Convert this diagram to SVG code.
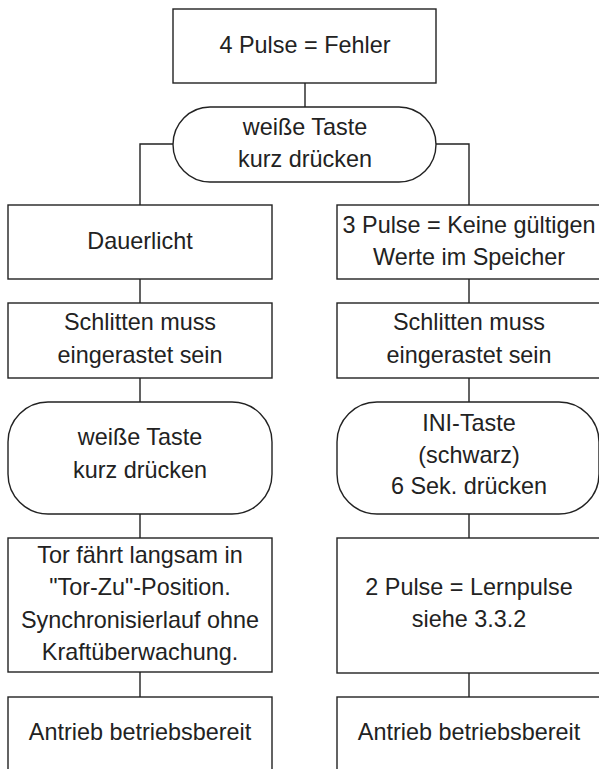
<svg xmlns="http://www.w3.org/2000/svg" width="599" height="769" viewBox="0 0 599 769">
<style>
.s{fill:#fff;stroke:#222;stroke-width:1.4}
.c{fill:none;stroke:#222;stroke-width:1.4}
text{font-family:"Liberation Sans",Arial,sans-serif;font-size:23.4px;fill:#222;text-anchor:middle}
</style>
<rect width="599" height="769" fill="#fff"/>
<g id="connectors">
<path class="c" d="M305,83V107"/>
<path class="c" d="M173,144H140V205"/>
<path class="c" d="M436,144H469V205"/>
<path class="c" d="M140,279V303M140,378V402M140,514V538M140,672V697"/>
<path class="c" d="M469,279V303M469,378V402M469,514V538M469,673V697"/>
</g>
<g id="n1"><rect class="s" x="173" y="9" width="263" height="74"/><text x="305" y="53">4 Pulse = Fehler</text></g>
<g id="n2"><rect class="s" x="173" y="107" width="263" height="75" rx="37" ry="37.5"/><text x="305" y="135">weiße Taste</text><text x="305" y="167">kurz drücken</text></g>
<g id="l1"><rect class="s" x="8" y="205" width="264" height="74"/><text x="140" y="249">Dauerlicht</text></g>
<g id="l2"><rect class="s" x="8" y="303" width="264" height="75"/><text x="140" y="330">Schlitten muss</text><text x="140" y="363">eingerastet sein</text></g>
<g id="l3"><rect class="s" x="8" y="402" width="264" height="112" rx="40" ry="40"/><text x="140" y="445">weiße Taste</text><text x="140" y="478">kurz drücken</text></g>
<g id="l4"><rect class="s" x="8" y="538" width="264" height="134"/><text x="140" y="563">Tor fährt langsam in</text><text x="140" y="595">"Tor-Zu"-Position.</text><text x="140" y="628">Synchronisierlauf ohne</text><text x="140" y="660">Kraftüberwachung.</text></g>
<g id="l5"><rect class="s" x="8" y="697" width="264" height="90"/><text x="140" y="740">Antrieb betriebsbereit</text></g>
<g id="r1"><rect class="s" x="337" y="205" width="264" height="74"/><text x="469" y="233">3 Pulse = Keine gültigen</text><text x="469" y="265">Werte im Speicher</text></g>
<g id="r2"><rect class="s" x="337" y="303" width="264" height="75"/><text x="469" y="330">Schlitten muss</text><text x="469" y="363">eingerastet sein</text></g>
<g id="r3"><rect class="s" x="337" y="402" width="262" height="112" rx="40" ry="40"/><text x="469" y="431">INI-Taste</text><text x="469" y="463">(schwarz)</text><text x="469" y="494">6 Sek. drücken</text></g>
<g id="r4"><rect class="s" x="337" y="538" width="264" height="135"/><text x="469" y="595">2 Pulse = Lernpulse</text><text x="469" y="627">siehe 3.3.2</text></g>
<g id="r5"><rect class="s" x="337" y="697" width="264" height="90"/><text x="469" y="740">Antrieb betriebsbereit</text></g>
</svg>
